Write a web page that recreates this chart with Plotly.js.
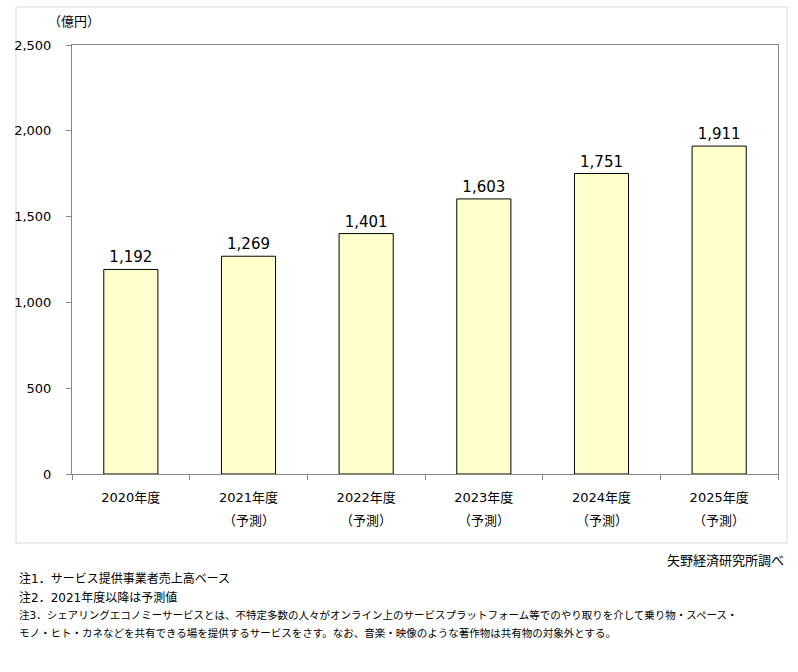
<!DOCTYPE html>
<html>
<head>
<meta charset="utf-8">
<script src="https://cdn.plot.ly/plotly-3.0.1.min.js"></script>
<style>html,body{margin:0;padding:0;background:#fff;}#chart{width:798px;height:672px;}</style>
</head>
<body>
<div id="chart"></div>
<script>
const categories = ["2020年度", "2021年度", "2022年度", "2023年度", "2024年度", "2025年度"];
const values = [1192, 1269, 1401, 1603, 1751, 1911];
const forecastFlags = [false, true, true, true, true, true];
const forecastLabel = "（予測）";
const yTickValues = [0, 500, 1000, 1500, 2000, 2500];
const unitLabel = "（億円）";
const sourceLabel = "矢野経済研究所調べ";
const notes = [
  "注1．サービス提供事業者売上高ベース",
  "注2．2021年度以降は予測値",
  "注3．シェアリングエコノミーサービスとは、不特定多数の人々がオンライン上のサービスプラットフォーム等でのやり取りを介して乗り物・スペース・",
  "モノ・ヒト・カネなどを共有できる場を提供するサービスをさす。なお、音楽・映像のような著作物は共有物の対象外とする。"
];

const FONT = "DejaVu Sans, 'Noto Sans CJK JP', sans-serif";
const L = 72, R = 778, T = 45, B = 474;
const W = R - L, H = B - T;
const px = x => (x - L) / W;
const py = y => (B - y) / H;

const annotations = [];
annotations.push({text: unitLabel, xref: 'paper', yref: 'paper', x: px(46), y: py(22),
  xanchor: 'left', yanchor: 'middle', showarrow: false, font: {family: FONT, size: 13, color: '#000'}});
categories.forEach((c, i) => {
  if (forecastFlags[i]) {
    annotations.push({text: forecastLabel, xref: 'x', yref: 'paper', x: c, y: py(520),
      xanchor: 'center', yanchor: 'middle', showarrow: false, font: {family: FONT, size: 13, color: '#000'}});
  }
});
annotations.push({text: sourceLabel, xref: 'paper', yref: 'paper', x: px(786), y: py(560),
  xanchor: 'right', yanchor: 'middle', showarrow: false, font: {family: FONT, size: 13, color: '#000'}});
const noteY = [578, 597, 615, 633];
const noteSize = [12, 12, 10.5, 10.5];
notes.forEach((n, i) => {
  annotations.push({text: n, xref: 'paper', yref: 'paper', x: px(17), y: py(noteY[i]),
    xanchor: 'left', yanchor: 'middle', showarrow: false, font: {family: FONT, size: noteSize[i], color: '#000'}});
});

const trace = {
  type: 'bar',
  x: categories,
  y: values,
  width: 0.46,
  marker: {color: '#ffffcc', line: {color: '#000', width: 1}},
  text: values.map(v => v.toLocaleString('en-US')),
  textposition: 'outside',
  textfont: {family: FONT, size: 15, color: '#000'},
  cliponaxis: false,
  hoverinfo: 'none'
};

const layout = {
  width: 798, height: 672,
  margin: {l: L, r: 798 - R, t: T, b: 672 - B, pad: 0},
  paper_bgcolor: '#fff', plot_bgcolor: '#fff',
  showlegend: false,
  font: {family: FONT, size: 13, color: '#000'},
  xaxis: {
    type: 'category', showgrid: false, zeroline: false,
    showline: true, linecolor: '#868686', linewidth: 1, mirror: true,
    ticks: 'outside', ticklen: 5, tickcolor: '#868686', tickson: 'boundaries',
    tickfont: {family: FONT, size: 13, color: '#000'}, ticklabelstandoff: 11
  },
  yaxis: {
    range: [0, 2500], tickvals: yTickValues, tickformat: ',',
    showgrid: false, zeroline: false,
    showline: true, linecolor: '#868686', linewidth: 1, mirror: true,
    ticks: 'outside', ticklen: 5, tickcolor: '#868686',
    tickfont: {family: FONT, size: 13, color: '#000'}, ticklabelstandoff: 12
  },
  shapes: [{type: 'rect', xref: 'paper', yref: 'paper', x0: px(16), x1: px(787), y0: py(543), y1: py(7),
    line: {color: '#d9d9d9', width: 1}, fillcolor: 'rgba(0,0,0,0)', layer: 'below'}],
  annotations: annotations
};

Plotly.newPlot('chart', [trace], layout, {staticPlot: true, displayModeBar: false});
</script>
</body>
</html>
